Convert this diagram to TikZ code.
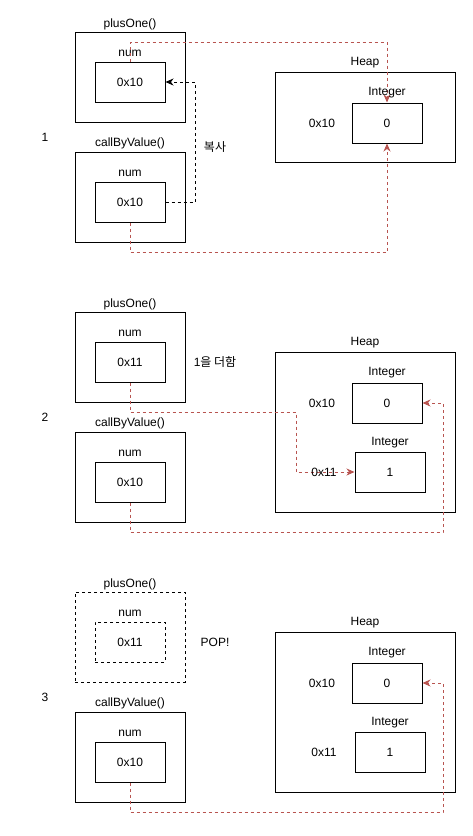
\documentclass[tikz,border=0pt]{standalone}
\usepackage{fontspec}
\setmainfont{Liberation Sans}
\newfontfamily\krfont{Noto Sans CJK KR}
\usetikzlibrary{arrows.meta}
\definecolor{dred}{RGB}{184,84,80}
\begin{document}
\begin{tikzpicture}[x=1pt,y=-1pt,
  every node/.style={font=\fontsize{12}{14}\selectfont, inner sep=0pt},
  frame/.style={draw, line width=1pt, minimum width=110pt, minimum height=90pt},
  cell/.style={draw, line width=1pt, minimum width=70pt, minimum height=40pt},
  gone/.style={dash pattern=on 3pt off 3pt},
  redlink/.style={draw=dred, line width=1pt, dash pattern=on 3pt off 3pt,
    -{Stealth[length=8pt,width=7pt,inset=2.5pt]}},
  redline/.style={draw=dred, line width=1pt, dash pattern=on 3pt off 3pt},
  copylink/.style={draw=black, line width=1pt, dash pattern=on 3pt off 3pt,
    -{Stealth[length=8pt,width=7pt,inset=2.5pt]}}]
\useasboundingbox (0,0) rectangle (472,836);

% ---------------- Panel 1 ----------------
\node (step1) at (45,137) {1};
\node[frame] (pOne1) at (130,77) {};
\node (pOneL1) at (130,24) {plusOne()};
\node (pNum1) at (130,53) {num};
\node[cell] (pIn1) at (130,82) {0x10};
\node[frame] (cbv1) at (130,197) {};
\node (cbvL1) at (130,143) {callByValue()};
\node (cNum1) at (130,173) {num};
\node[cell] (cIn1) at (130,202) {0x10};
\node[draw, line width=1pt, minimum width=180pt, minimum height=90pt] (heap1) at (365,117) {};
\node (heapL1) at (365,63) {Heap};
\node (addrA1) at (322,123) {0x10};
\node[cell] (intA1) at (387,123) {0};
\node (copyL) at (215,147) {\krfont 복사};
\coordinate (cpA) at (195,202);
\coordinate (r1a) at (130,42);
\coordinate (r1b) at (130,252);
\draw[copylink] (cIn1.east) -- (cpA) |- (pIn1.east);
\draw[redlink] (pIn1.north) -- (r1a) -| (intA1.north);
\node (intAL1) at (387,93) {Integer};
\draw[redlink] (cIn1.south) -- (r1b) -| (intA1.south);

% ---------------- Panel 2 ----------------
\node (step2) at (45,417) {2};
\node[frame] (pOne2) at (130,357) {};
\node (pOneL2) at (130,304) {plusOne()};
\node (pNum2) at (130,333) {num};
\node[cell] (pIn2) at (130,362) {0x11};
\node[frame] (cbv2) at (130,477) {};
\node (cbvL2) at (130,423) {callByValue()};
\node (cNum2) at (130,453) {num};
\node[cell] (cIn2) at (130,482) {0x10};
\node[draw, line width=1pt, minimum width=180pt, minimum height=160pt] (heap2) at (365,432) {};
\node (heapL2) at (365,343) {Heap};
\node (intAL2) at (387,373) {Integer};
\node[cell] (intA2) at (387,403) {0};
\node (intBL2) at (390,443) {Integer};
\node[cell] (intB2) at (390,472) {1};
\node (addL) at (215,362) {1\krfont 을 더함};
\coordinate (r2a) at (296,412);
\coordinate (r2b) at (443,532);
\draw[redlink] (pIn2.south) |- (r2a) |- (intB2.west);
\draw[redlink] (cIn2.south) |- (r2b) |- (intA2.east);
\node (addrA2) at (322,403) {0x10};
\node (addrB2) at (324,472) {0x11};

% ---------------- Panel 3 ----------------
\node (step3) at (45,697) {3};
\node[frame, gone] (pOne3) at (130,637) {};
\node (pOneL3) at (130,584) {plusOne()};
\node (pNum3) at (130,613) {num};
\node[cell, gone] (pIn3) at (130,642) {0x11};
\node[frame] (cbv3) at (130,757) {};
\node (cbvL3) at (130,703) {callByValue()};
\node (cNum3) at (130,733) {num};
\node[cell] (cIn3) at (130,762) {0x10};
\node[draw, line width=1pt, minimum width=180pt, minimum height=160pt] (heap3) at (365,712) {};
\node (heapL3) at (365,623) {Heap};
\node (intAL3) at (387,653) {Integer};
\node[cell] (intA3) at (387,683) {0};
\node (intBL3) at (390,723) {Integer};
\node[cell] (intB3) at (390,752) {1};
\node (addrA3) at (322,683) {0x10};
\node (addrB3) at (324,752) {0x11};
\node (popL) at (215,642) {POP!};
\coordinate (r3b) at (443,812);
\draw[redlink] (cIn3.south) |- (r3b) |- (intA3.east);
\end{tikzpicture}
\end{document}
